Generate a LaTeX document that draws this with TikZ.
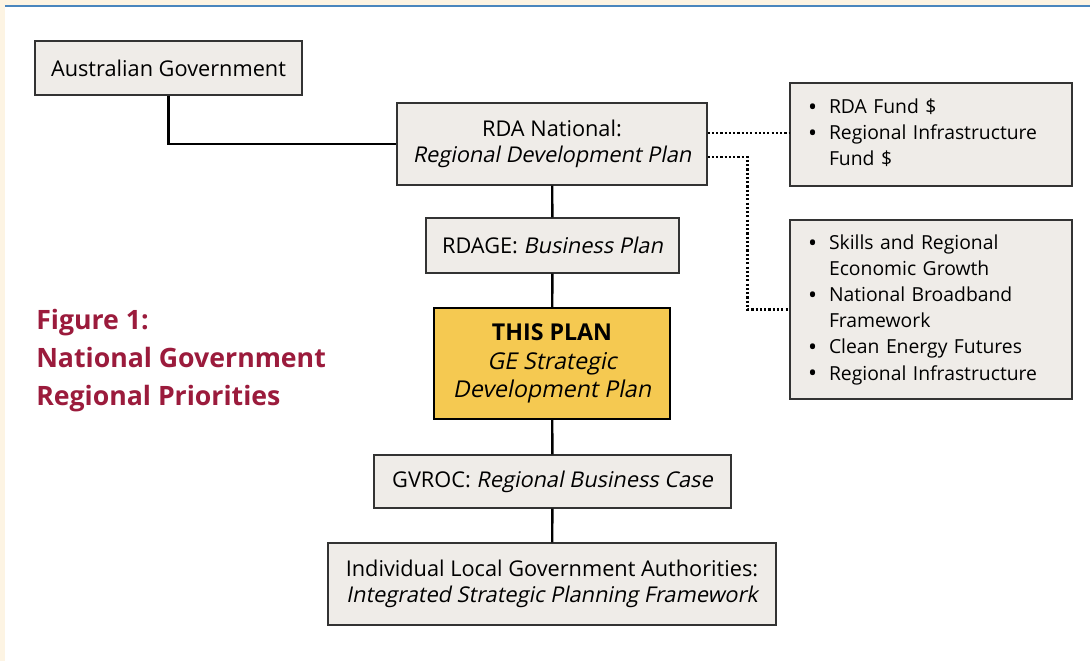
\documentclass[tikz,border=0pt]{standalone}
\usepackage{fontspec}
\setmainfont{Open Sans}[
	ItalicFont={Open Sans}, ItalicFeatures={FakeSlant=0.2},
	BoldItalicFont={Open Sans Bold}, BoldItalicFeatures={FakeSlant=0.2}]
\usepackage{tikz}
\usetikzlibrary{calc}
\definecolor{cream}{HTML}{FDF4E3}
\definecolor{rule}{HTML}{4A86BE}
\definecolor{boxgray}{HTML}{EFECE8}
\definecolor{planyellow}{HTML}{F5C951}
\definecolor{titlered}{HTML}{9B1B3C}
\newcommand{\boxfont}{\fontsize{16.3}{20}\selectfont}
\newcommand{\listfont}{\fontsize{14.5}{19.6}\selectfont}
\newcommand{\bul}{\makebox[15.75pt][l]{\raisebox{-1.4pt}{\fontsize{18}{19.6}\selectfont\textbullet}}}

\begin{document}
\begin{tikzpicture}[
		x=0.75pt, y=-0.75pt,
		box/.style={draw=black!80, fill=boxgray, line width=0.9pt, inner sep=0pt, align=center, font=\boxfont},
		plan/.style={box, fill=planyellow, draw=black, line width=1.6pt},
		listbox/.style={box, align=left, font=\listfont, inner xsep=13.5pt, text width=184.5pt, minimum height=#1},
		link/.style={line width=1.8pt, black},
		dots/.style={line width=1.8pt, dash pattern=on 1.6pt off 1.6pt, black},
	]
	\useasboundingbox (0,0) rectangle (1090,661);
	\fill[white] (0,0) rectangle (1090,661);
	\fill[cream] (0,0) rectangle (1090,5);
	\fill[cream] (0,0) rectangle (5,661);
	\draw[rule, line width=1.5pt] (5,6) -- (1090,6);

	% chain of plans
	\node[box, minimum width=200.25pt, minimum height=40.5pt] (aus) at (168.5,68) {Australian Government};
	\node[box, minimum width=232.5pt, minimum height=61.5pt] (rda) at (552,144) {RDA National:\\ \textit{Regional Development Plan}};
	\node[box, minimum width=189.75pt, minimum height=41.25pt] (rdage) at (552.5,245.5) {RDAGE: \textit{Business Plan}};
	\node[plan, minimum width=177pt, minimum height=83.25pt, font=\fontsize{17.4}{21.5}\selectfont] (plan) at (552,363.5) {\textbf{THIS PLAN}\\ \textit{GE Strategic}\\ \textit{Development Plan}};
	\node[box, minimum width=267.75pt, minimum height=39.75pt] (gvroc) at (552.5,481.5) {GVROC: \textit{Regional Business Case}};
	\node[box, minimum width=336pt, minimum height=61.5pt] (lga) at (552,584) {Individual Local Government Authorities:\\ \textit{Integrated Strategic Planning Framework}};

	% funding and programmes
	\node[listbox=77.25pt] (fund) at (931,134.5) {%
		\begin{tabular}{@{}l@{}l@{}}
			\bul & RDA Fund \$\\
			\bul & Regional Infrastructure\\
			     & Fund \$
		\end{tabular}};
	\node[listbox=134.25pt] (prog) at (931,309.5) {%
		\begin{tabular}{@{}l@{}l@{}}
			\bul & Skills and Regional\\
			     & Economic Growth\\
			\bul & National Broadband\\
			     & Framework\\
			\bul & Clean Energy Futures\\
			\bul & Regional Infrastructure
		\end{tabular}};

	\node[anchor=north west, inner sep=0pt, align=left, text=titlered,
		font=\fontsize{20}{28.5}\selectfont\bfseries] (title) at (36,309)
		{Figure 1:\\ National Government\\ Regional Priorities};

	\coordinate (fundout) at ([yshift=8.25pt]rda.east);
	\coordinate (progout) at ([yshift=-9.75pt]rda.east);
	\draw[link] (aus.south) |- (rda.west);
	\draw[link] (rda) -- (rdage);
	\draw[link] (rdage) -- (plan);
	\draw[link] (plan) -- (gvroc);
	\draw[link] (gvroc) -- (lga);
	\draw[dots] (fundout) -- (fundout -| fund.west);
	\draw[dots] (progout) -| ([xshift=-31.5pt]prog.west) -- (prog.west);
\end{tikzpicture}
\end{document}
